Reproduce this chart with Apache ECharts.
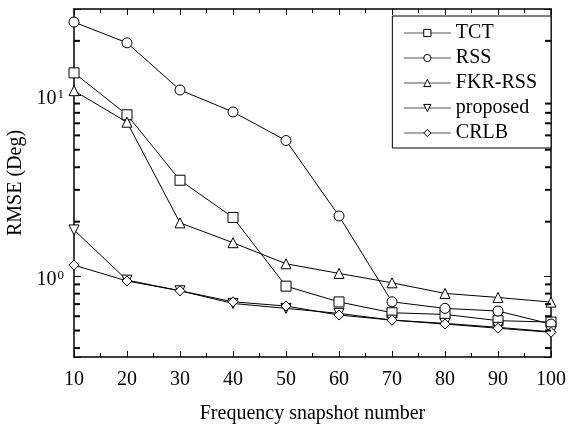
<!DOCTYPE html>
<html>
<head>
<meta charset="utf-8">
<script src="https://cdn.jsdelivr.net/npm/echarts@6/dist/echarts.min.js"></script>
<style>
  html, body { margin: 0; padding: 0; background: #fff; }
  #main { width: 568px; height: 425px; }
</style>
</head>
<body>
<div id="main"></div>
<script>
var snapshots = [10, 20, 30, 40, 50, 60, 70, 80, 90, 100];
var tct = [13.3, 7.8, 3.39, 2.11, 0.88, 0.72, 0.627, 0.614, 0.567, 0.557];
var rss = [25.4, 19.5, 10.7, 8.09, 5.62, 2.15, 0.721, 0.663, 0.641, 0.543];
var fkrRss = [10.6, 7.1, 1.97, 1.53, 1.17, 1.035, 0.918, 0.802, 0.762, 0.718];
var proposed = [1.80, 0.95, 0.83, 0.706, 0.663, 0.622, 0.571, 0.548, 0.521, 0.492];
var crlb = [1.15, 0.94, 0.83, 0.721, 0.683, 0.609, 0.571, 0.543, 0.515, 0.489];
// minor ticks of the log axis
var minorValues = [0.4, 0.5, 0.6, 0.7, 0.8, 0.9, 2, 3, 4, 5, 6, 7, 8, 9, 20];

var font = 'Liberation Serif';
var chart = echarts.init(document.getElementById('main'));

function pairs(arr) {
  return snapshots.map(function (x, i) { return [x, arr[i]]; });
}

function line(name, values, symbol, rotate) {
  return {
    name: name,
    type: 'line',
    data: pairs(values),
    symbol: symbol,
    symbolSize: 10,
    symbolRotate: rotate || 0,
    showAllSymbol: true,
    lineStyle: { color: '#000', width: 1 },
    itemStyle: { color: '#fff', borderColor: '#000', borderWidth: 1 },
    emphasis: { disabled: true },
    z: 3
  };
}

// short marks drawn inside the frame at the log minor positions
function minorTicks(name, x, offset) {
  return {
    name: name,
    type: 'scatter',
    silent: true,
    clip: false,
    data: minorValues.map(function (v) { return [x, v]; }),
    symbol: 'rect',
    symbolSize: [6, 2],
    symbolOffset: [offset, 0],
    itemStyle: { color: '#000', opacity: 1 },
    z: 10
  };
}

var boxLine = { show: true, onZero: false, lineStyle: { color: '#000', width: 1.5 } };

var option = {
  animation: false,
  backgroundColor: '#fff',
  grid: { left: 74, right: 17, top: 9, bottom: 68, outerBoundsMode: 'none' },
  legend: {
    right: 17,
    top: 16,
    orient: 'vertical',
    itemWidth: 47,
    itemHeight: 9,
    itemGap: 5,
    padding: [7, 14, 5, 11],
    borderColor: '#000',
    borderWidth: 1,
    backgroundColor: '#fff',
    itemStyle: { borderWidth: 1 },
    lineStyle: { width: 1, color: '#555' },
    textStyle: { fontFamily: font, fontSize: 20, color: '#000', lineHeight: 20 },
    data: ['TCT', 'RSS', 'FKR-RSS', 'proposed', 'CRLB']
  },
  xAxis: [{
    type: 'value',
    min: 10, max: 100, interval: 10,
    name: 'Frequency snapshot number',
    nameLocation: 'middle',
    nameGap: 47,
    nameTextStyle: { fontFamily: font, fontSize: 20, color: '#000' },
    axisLine: boxLine,
    axisTick: { inside: true, length: 6, lineStyle: { color: '#000' } },
    minorTick: { show: true, splitNumber: 2, length: 4, lineStyle: { color: '#000' } },
    axisLabel: { fontFamily: font, fontSize: 20, color: '#000', margin: 13 },
    splitLine: { show: false }
  }, {
    type: 'value',
    position: 'top',
    min: 10, max: 100, interval: 10,
    axisLine: boxLine,
    axisTick: { inside: true, length: 6, lineStyle: { color: '#000' } },
    minorTick: { show: true, splitNumber: 2, length: 4, lineStyle: { color: '#000' } },
    axisLabel: { show: false },
    splitLine: { show: false }
  }],
  yAxis: [{
    type: 'log',
    logBase: 10,
    min: 0.357, max: 30,
    name: 'RMSE (Deg)',
    nameLocation: 'middle',
    nameGap: 48,
    nameTextStyle: { fontFamily: font, fontSize: 20, color: '#000' },
    axisLine: boxLine,
    axisTick: { inside: true, length: 7, lineStyle: { color: '#000' } },
    axisLabel: {
      margin: 10,
      formatter: function (v) {
        var e = Math.round(Math.log10(v));
        if (Math.abs(Math.pow(10, e) - v) > 1e-6 * v) return '';
        return '{b|10}{s|' + e + '}';
      },
      rich: {
        b: { fontFamily: font, fontSize: 20, color: '#000', lineHeight: 20, padding: [7, 0, 0, 0] },
        s: { fontFamily: font, fontSize: 13, color: '#000', lineHeight: 14, verticalAlign: 'top', padding: [3, 0, 0, 1] }
      }
    },
    splitLine: { show: false }
  }, {
    type: 'log',
    logBase: 10,
    position: 'right',
    min: 0.357, max: 30,
    axisLine: boxLine,
    axisTick: { inside: true, length: 7, lineStyle: { color: '#000' } },
    axisLabel: { show: false },
    splitLine: { show: false }
  }],
  series: [
    line('TCT', tct, 'rect'),
    line('RSS', rss, 'circle'),
    line('FKR-RSS', fkrRss, 'triangle'),
    line('proposed', proposed, 'triangle', 180),
    line('CRLB', crlb, 'diamond'),
    minorTicks('minorLeft', 10, 3),
    minorTicks('minorRight', 100, -3)
  ]
};
chart.setOption(option);
</script>
</body>
</html>
